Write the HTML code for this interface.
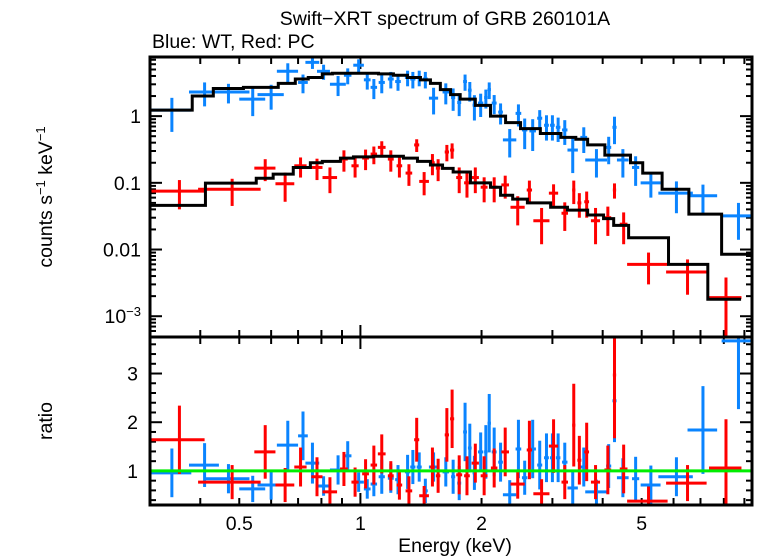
<!DOCTYPE html>
<html><head><meta charset="utf-8"><style>
html,body{margin:0;padding:0;background:#fff;}
svg{display:block;font-family:"Liberation Sans",sans-serif;}
</style></head><body>
<svg id="chart" width="758" height="556" viewBox="0 0 758 556" xmlns="http://www.w3.org/2000/svg">
<defs>
<clipPath id="clipTop"><rect x="150" y="57" width="602" height="280"/></clipPath>
<clipPath id="clipBot"><rect x="150" y="337" width="602" height="168"/></clipPath>
</defs>
<rect x="0" y="0" width="758" height="556" fill="#fff"/>
<text x="445" y="25" text-anchor="middle" font-size="19.5">Swift−XRT spectrum of GRB 260101A</text>
<text x="152" y="48" font-size="19.5">Blue: WT, Red: PC</text>
<text transform="translate(52,197) rotate(-90)" text-anchor="middle" font-size="19.5">counts s<tspan font-size="13" dy="-7">−1</tspan><tspan dy="7"> keV</tspan><tspan font-size="13" dy="-7">−1</tspan></text>
<text transform="translate(52,421) rotate(-90)" text-anchor="middle" font-size="19.5">ratio</text>
<text x="455" y="552" text-anchor="middle" font-size="19.5">Energy (keV)</text>
<g id="gTicks"></g>
<g id="gTop" clip-path="url(#clipTop)"></g>
<g id="gBot" clip-path="url(#clipBot)"></g>
<g id="gFrame"></g>
</svg>
<script>
// ---- data ----
const blueE  = [.34,.41,.47,.54,.60,.66,.72,.76,.81,.88,.93,.99,1.04,1.08,1.13,1.19,1.24,1.31,1.35,1.40,1.45,1.52,1.63,1.70,1.76,1.82,1.87,1.92,1.99,2.05,2.09,2.15,2.23,2.35,2.47,2.56,2.68,2.79,2.90,3.00,3.10,3.22,3.37,3.59,3.86,4.14,4.28,4.49,4.83,5.27,6.1,7.1,8.7];
const blueHW = [.04,.035,.06,.04,.045,.04,.02,.03,.03,.04,.02,.03,.02,.02,.02,.02,.02,.02,.02,.02,.02,.04,.03,.02,.02,.02,.02,.02,.03,.02,.02,.03,.03,.09,.04,.04,.05,.04,.04,.04,.04,.05,.1,.07,.24,.06,.05,.15,.1,.3,.6,.6,.8];
const blueVal= [1.23,2.3,2.3,1.8,2.1,4.7,3.2,6.4,4.7,3.0,4.1,5.8,3.5,2.7,3.2,3.6,3.3,3.8,3.6,3.8,3.6,1.86,2.3,1.9,1.6,3.3,2.45,1.46,1.57,1.9,2.5,1.57,1.15,.44,1.1,.62,.6,.93,.73,.73,.68,.62,.31,.48,.22,.34,.68,.22,.17,.10,.07,.064,.032];
const blueErr= [.65,.9,.75,.8,.85,1.5,1.0,1.3,1.2,1.0,1.1,1.3,1.0,.9,1.0,1.0,.9,1.0,1.0,1.0,1.0,.8,.8,.7,.6,.9,.8,.6,.6,.6,.7,.5,.4,.2,.4,.3,.3,.3,.3,.3,.27,.25,.17,.2,.1,.15,.3,.1,.08,.04,.035,.03,.018];
const blueRatio=[.96,1.12,.84,.63,.71,1.53,1.72,1.16,.69,1.02,1.31,.77,.63,.73,.88,.85,.82,.98,1.08,1.08,.59,1.08,.98,.88,.75,1.8,1.47,.96,1.39,1.39,1.98,1.39,1.18,.51,1.45,.86,1.45,1.12,1.27,1.27,1.27,1.18,.65,1.08,.57,1.1,2.44,.86,.84,.71,.88,1.84,3.67];
const blueRatioErr=[.5,.45,.3,.27,.3,.5,.5,.42,.2,.3,.3,.2,.2,.25,.35,.3,.3,.35,.35,.3,.25,.3,.3,.35,.35,.6,.5,.35,.4,.55,.6,.5,.4,.3,.6,.35,.6,.5,.5,.5,.5,.4,.35,.4,.25,.45,.85,.4,.45,.4,.4,.9,1.4];

const redE  = [.355,.48,.58,.65,.71,.78,.84,.91,.97,1.03,1.08,1.13,1.19,1.25,1.32,1.38,1.44,1.51,1.56,1.64,1.69,1.76,1.84,1.93,2.03,2.15,2.29,2.46,2.63,2.82,3.02,3.22,3.39,3.5,3.65,3.84,4.12,4.28,4.51,5.2,6.5,8.1];
const redHW = [.055,.085,.035,.035,.025,.025,.035,.02,.02,.02,.02,.025,.02,.02,.025,.02,.04,.02,.02,.02,.02,.03,.03,.04,.04,.04,.05,.1,.04,.13,.08,.06,.03,.04,.05,.1,.08,.04,.1,.6,.75,.75];
const redVal= [.075,.08,.166,.097,.18,.17,.12,.227,.18,.235,.27,.34,.227,.18,.14,.37,.105,.2,.166,.29,.31,.12,.1,.12,.086,.086,.093,.043,.078,.027,.07,.035,.078,.05,.052,.027,.03,.078,.024,.006,.0046,.0019];
const redErr= [.035,.035,.06,.045,.06,.06,.05,.08,.06,.08,.08,.08,.08,.06,.05,.08,.04,.07,.06,.08,.08,.05,.04,.05,.035,.035,.035,.02,.03,.015,.025,.016,.03,.02,.022,.015,.014,.02,.012,.003,.0025,.0019];
const redRatio=[1.64,.77,1.39,.71,1.08,.88,.57,1.04,.77,.94,1.12,1.35,.9,.71,.59,1.64,.49,1.08,.9,1.74,2.07,.92,.9,1.16,.9,1.06,1.39,.73,1.43,.53,1.51,.77,1.94,1.22,1.39,.77,1.02,2.97,1.04,.38,.75,1.06];
const redRatioErr=[.7,.35,.55,.35,.4,.4,.3,.35,.3,.3,.4,.4,.3,.3,.3,.45,.2,.4,.35,.55,.6,.4,.4,.4,.4,.4,.5,.3,.6,.3,.55,.35,.85,.5,.6,.35,.5,1.3,.5,.3,.37,1.0];

const blueModelEdges=[.30,.382,.431,.512,.625,.689,.742,.804,.852,1.109,1.208,1.309,1.41,1.493,1.58,1.675,1.77,1.93,2.105,2.295,2.5,2.8,3.15,3.43,3.67,4.05,4.69,5.03,5.62,6.55,7.9,9.44];
const blueModelVals=[1.23,2.0,2.6,2.7,3.1,3.6,3.8,4.3,4.4,4.3,4.1,3.8,3.5,3.1,2.5,2.1,1.8,1.45,1.0,.8,.65,.55,.48,.45,.37,.26,.2,.14,.08,.034,.0085];
const redModelEdges=[.30,.412,.551,.607,.681,.751,.804,.892,.961,1.077,1.279,1.386,1.493,1.6,1.70,1.877,2.105,2.23,2.39,2.6,2.97,3.27,3.67,4.02,4.26,4.64,5.83,7.3,8.83];
const redModelVals=[.046,.099,.117,.135,.17,.2,.21,.235,.245,.25,.235,.21,.185,.165,.145,.1,.086,.065,.057,.05,.043,.039,.033,.029,.023,.015,.006,.0018];

const xTickLabels=["0.5","1","2","5"];
const xTickVals=[0.5,1,2,5];
const yTickLabels=["1","0.1","0.01"];
const yTickVals=[1,0.1,0.01];
const rTickVals=[1,2,3];
const rTickLabels=["1","2","3"];

// ---- axes ----
const L=150,R=752,T=57,M=337,B=505;
const xMin=Math.log10(0.3), xMax=Math.log10(9.4);
function X(e){return L+(Math.log10(e)-xMin)/(xMax-xMin)*(R-L);}
const yLogTop=Math.log10(7.7), yLogBot=Math.log10(0.000488);
function Y(v){return T+(yLogTop-Math.log10(v))/(yLogTop-yLogBot)*(M-T);}
const rTop=3.75, rBot=0.30;
function RY(r){return M+(rTop-r)/(rTop-rBot)*(B-M);}

const NS="http://www.w3.org/2000/svg";
function mk(tag,attrs,parent){const el=document.createElementNS(NS,tag);for(const k in attrs)el.setAttribute(k,attrs[k]);parent.appendChild(el);return el;}
const gT=document.getElementById('gTicks'),gTop=document.getElementById('gTop'),gBot=document.getElementById('gBot'),gF=document.getElementById('gFrame');

function line(p,x1,y1,x2,y2,col,w){return mk('line',{x1:x1,y1:y1,x2:x2,y2:y2,stroke:col,'stroke-width':w},p);}

// x ticks
const minorE=[.3,.4,.5,.6,.7,.8,.9,2,3,4,5,6,7,8,9];
[[T,1],[M,-1],[M,1],[B,-1]].forEach(([y0,dir])=>{
  minorE.forEach(e=>{const x=X(e);if(x<L+1||x>R-1)return;const t=line(gT,x,y0,x,y0+dir*7,'#000',2);
    
    });
  const t=line(gT,X(1),y0,X(1),y0+dir*12,'#000',2);
  
  
});
xTickVals.forEach((v,i)=>{const t=mk('text',{x:X(v),y:530,'text-anchor':'middle','font-size':19.5},gT);t.textContent=xTickLabels[i];
  
  });

// y log ticks
for(let d=-4;d<=0;d++){for(let m=1;m<=9;m++){const v=m*Math.pow(10,d);const y=Y(v);if(y<T+1||y>M-1)continue;const len=m===1?12:6;
  const a=line(gT,L,y,L+len,y,'#000',2);
  
  
  const b=line(gT,R,y,R-len,y,'#000',2);
  
  }}
yTickVals.forEach((v,i)=>{const t=mk('text',{x:141,y:Y(v)+7,'text-anchor':'end','font-size':19.5},gT);t.textContent=yTickLabels[i];
  
  });
{const t=mk('text',{x:141,y:Y(0.001)+7,'text-anchor':'end','font-size':19.5},gT);t.innerHTML='10<tspan font-size="13" dy="-7">−3</tspan>';
  
  }

// ratio ticks
for(let r=0.4;r<3.75;r+=0.2){const rr=Math.round(r*10)/10;const y=RY(rr);const len=(Math.abs(rr-Math.round(rr))<0.01)?12:6;
  const a=line(gT,L,y,L+len,y,'#000',2);
  
  
  const b=line(gT,R,y,R-len,y,'#000',2);
  
  }
rTickVals.forEach((v,i)=>{const t=mk('text',{x:138,y:RY(v)+7,'text-anchor':'end','font-size':19.5},gT);t.textContent=rTickLabels[i];
  
  });

// error crosses
function crosses(g,E,HW,V,ER,yf,col,name,floor){
  for(let i=0;i<E.length;i++){
    const x1=X(E[i]-HW[i]),x2=X(E[i]+HW[i]),y=yf(V[i]);
    const lo=Math.max(V[i]-ER[i],floor),hi=V[i]+ER[i];
    const h=line(g,x1,y,x2,y,col,3);
    
    
    const v=line(g,X(E[i]),yf(hi),X(E[i]),yf(lo),col,3);
    
    
  }
}
function step(g,edges,vals,name){
  let d='';for(let i=0;i<vals.length;i++){const y=Y(vals[i]);d+=(i===0?'M':'L')+X(edges[i])+','+y+'L'+X(edges[i+1])+','+y;}
  const p=mk('path',{d:d,fill:'none',stroke:'#000','stroke-width':3},g);
  
  
}
crosses(gTop,blueE,blueHW,blueVal,blueErr,Y,'#0a84ff','blue-wt-point',1e-5);
crosses(gTop,redE,redHW,redVal,redErr,Y,'#ff0000','red-pc-point',1e-5);
step(gTop,blueModelEdges,blueModelVals,'blue-model-line');
step(gTop,redModelEdges,redModelVals,'red-model-line');

crosses(gBot,blueE,blueHW,blueRatio,blueRatioErr,RY,'#0a84ff','blue-ratio-point',-1);
crosses(gBot,redE,redHW,redRatio,redRatioErr,RY,'#ff0000','red-ratio-point',-1);
{const g=line(gBot,L,RY(1),R,RY(1),'#00ee00',3);
  
  }

// frames
[[T,M],[M,B]].forEach(([a,b],i)=>{const r=mk('rect',{x:L,y:a,width:R-L,height:b-a,fill:'none',stroke:'#000','stroke-width':3},gF);
  
  });
</script>
</body></html>
